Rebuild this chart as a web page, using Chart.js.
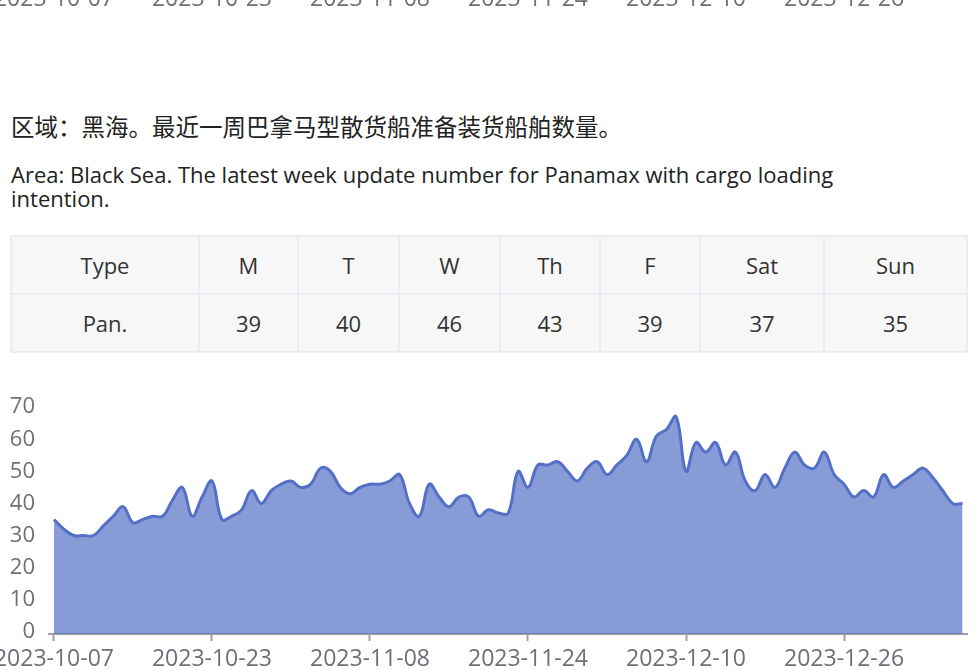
<!DOCTYPE html>
<html lang="zh">
<head>
<meta charset="utf-8">
<script src="https://cdn.jsdelivr.net/npm/chart.js@4.4.1/dist/chart.umd.min.js"></script>
<title>Black Sea Panamax</title>
<style>
  body { margin: 0; width: 977px; height: 670px; overflow: hidden; background: #fff;
         font-family: "Open Sans", "Noto Sans CJK SC", sans-serif; color: #222; }
  #prev { position: absolute; left: 0; top: 0; width: 977px; height: 10px; overflow: hidden; }
  #prev canvas { position: absolute; left: 0; top: -280px; }
  #cn { position: absolute; left: 11px; top: 112px; font-size: 23.5px; line-height: 30px; white-space: nowrap; }
  #en { position: absolute; left: 11px; top: 162px; width: 860px; font-size: 22px; line-height: 24px; }
  #week { position: absolute; left: 10px; top: 235px; border-collapse: collapse; table-layout: fixed;
          font-size: 22px; color: #333; background: #f7f7f7; }
  #week td { border: 2px solid #e9ecf2; text-align: center; height: 56px; padding: 0; }
  #box { position: absolute; left: 0; top: 380px; width: 977px; height: 290px; }
</style>
</head>
<body>
<div id="prev"><canvas id="prevChart" width="977" height="290"></canvas></div>
<div id="cn">区域：黑海。最近一周巴拿马型散货船准备装货船舶数量。</div>
<div id="en">Area: Black Sea. The latest week update number for Panamax with cargo loading intention.</div>
<table id="week"></table>
<div id="box"><canvas id="myChart" width="977" height="290"></canvas></div>

<script>
// last week table
const weekDays = ['M', 'T', 'W', 'Th', 'F', 'Sat', 'Sun'];
const weekValues = [39, 40, 46, 43, 39, 37, 35];
const colWidths = [188, 99, 101, 101, 100, 100, 124, 143];

// daily count of Panamax with loading intention, from 2023-10-07
const startDay = [2023, 9, 7];
const counts = [
  35, 32, 30, 30, 30, 33, 36, 39, 34, 35,
  36, 36, 41, 45, 36, 42, 47, 35, 36, 38,
  44, 40, 44, 46, 47, 45, 46, 51, 50, 45,
  43, 45, 46, 46, 47, 49, 40, 36, 46, 42,
  39, 42, 42, 36, 38, 37, 37, 50, 45, 52,
  52, 53, 50, 47, 51, 53, 49, 52, 55, 60,
  53, 61, 63, 67, 50, 59, 56, 59, 52, 56,
  47, 44, 49, 45, 51, 56, 52, 51, 56, 49,
  46, 42, 44, 42, 49, 45, 47, 49, 51, 48,
  44, 40, 40
];
const yTicks = [0, 10, 20, 30, 40, 50, 60, 70];
const labelStep = 16;

const pad = n => (n < 10 ? '0' : '') + n;
const dates = counts.map((v, i) => {
  const d = new Date(startDay[0], startDay[1], startDay[2] + i);
  return d.getFullYear() + '-' + pad(d.getMonth() + 1) + '-' + pad(d.getDate());
});

// build the table
const table = document.getElementById('week');
let cols = '<colgroup>' + colWidths.map(w => '<col style="width:' + w + 'px">').join('') + '</colgroup>';
let head = '<tr><td>Type</td>' + weekDays.map(d => '<td>' + d + '</td>').join('') + '</tr>';
let row = '<tr><td>Pan.</td>' + weekValues.map(v => '<td>' + v + '</td>').join('') + '</tr>';
table.innerHTML = cols + head + row;

function makeChart(id) {
  const ctx = document.getElementById(id).getContext('2d');
  return new Chart(ctx, {
    type: 'line',
    data: {
      datasets: [{
        data: counts.map((v, i) => ({ x: i, y: v })),
        borderColor: '#5470c6',
        backgroundColor: 'rgba(84,112,198,0.7)',
        borderWidth: 3,
        fill: 'start',
        tension: 0.4,
        pointRadius: 0
      }]
    },
    options: {
      responsive: false,
      animation: false,
      layout: { padding: { top: 22, right: 10, left: 0, bottom: 0 } },
      plugins: { legend: { display: false }, tooltip: { enabled: false } },
      scales: {
        x: {
          type: 'linear',
          min: -0.5,
          max: 92.45,
          afterBuildTicks: s => {
            s.ticks = dates.map((d, i) => i).filter(i => i % labelStep === 0).map(i => ({ value: i }));
          },
          // keep the cut-off first label from pushing the plot right
          afterFit: s => { s.paddingLeft = 0; s.paddingRight = 0; s.height = 36; },
          ticks: {
            autoSkip: false,
            maxRotation: 0,
            padding: 7,
            color: '#6e7079',
            font: { family: 'Open Sans', size: 23, lineHeight: 1 },
            callback: v => dates[v]
          },
          grid: { drawOnChartArea: false, drawTicks: true, tickLength: 7, tickWidth: 2, color: '#a0a0a0' },
          border: { display: true, color: '#a0a0a0', width: 2 }
        },
        y: {
          min: -0.7,
          max: 70,
          afterBuildTicks: s => { s.ticks = yTicks.map(v => ({ value: v })); },
          afterFit: s => { s.width = 49; },
          ticks: { padding: 14, color: '#6e7079', font: { family: 'Open Sans', size: 22 } },
          grid: { display: false, drawTicks: false },
          border: { display: false }
        }
      }
    }
  });
}

makeChart('prevChart');
makeChart('myChart');
</script>
</body>
</html>
